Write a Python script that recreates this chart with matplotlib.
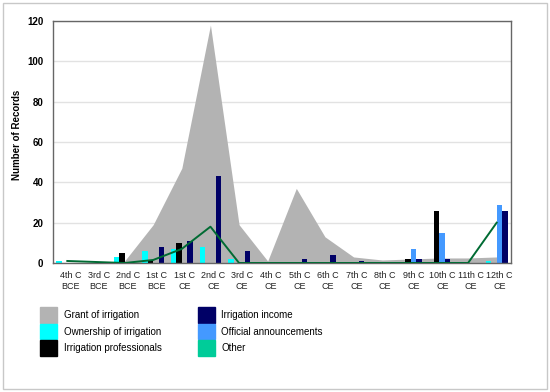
import matplotlib
matplotlib.use("Agg")
import matplotlib.pyplot as plt
import matplotlib.transforms as mtransforms
from matplotlib.patches import Patch, Rectangle
import numpy as np

plt.rcParams['font.family'] = ['Liberation Sans', 'DejaVu Sans']

categories = ["4th C\nBCE", "3rd C\nBCE", "2nd C\nBCE", "1st C\nBCE", "1st C\nCE", "2nd C\nCE",
              "3rd C\nCE", "4th C\nCE", "5th C\nCE", "6th C\nCE", "7th C\nCE", "8th C\nCE",
              "9th C\nCE", "10th C\nCE", "11th C\nCE", "12th C\nCE"]

grant = [0, 0, 1, 19, 47, 118, 19, 1, 37, 13, 3, 1.5, 2, 2.5, 2.5, 3]
ownership = [1, 0, 3, 6, 7, 8, 2, 0, 0, 0, 0, 0, 0, 0, 0.5, 1]
professionals = [0, 0, 5, 1, 10, 0, 0, 0, 0, 0, 0, 0, 2, 26, 0, 0]
announcements = [0, 0, 0, 0, 0, 0, 0, 0, 0, 0, 0, 0, 7, 15, 0, 29]
income = [0, 0, 0, 8, 11, 43, 6, 0, 2, 4, 1, 0, 2, 2, 0, 26]
other = [1, 0.5, 0, 1.5, 7, 18, 0, 0, 0, 0, 0, 0, 0, 0, 0, 20]

yticks = [0, 20, 40, 60, 80, 100, 120]

c_grant = '#B3B3B3'
c_own = '#00FFFF'
c_prof = '#000000'
c_inc = '#000066'
c_ann = '#4499FF'
c_other_line = '#006B33'
c_other_leg = '#00CC99'

fig = plt.figure(figsize=(5.5, 3.92), dpi=100)
ax = fig.add_axes([53/550, 1-263/392, (511-53)/550, (263-21)/392])

x = np.arange(len(categories))
ax.fill_between(x, 0, grant, color=c_grant, lw=0, zorder=1)

w = 0.19
ax.bar(x - 1.5*w, ownership, w, color=c_own, zorder=2)
ax.bar(x - 0.5*w, professionals, w, color=c_prof, zorder=2)
ax.bar(x + 0.5*w, announcements, w, color=c_ann, zorder=2)
ax.bar(x + 1.5*w, income, w, color=c_inc, zorder=2)
ax.plot(x, other, color=c_other_line, lw=1.4, zorder=3)

ax.set_xlim(-0.5, len(categories) - 0.5)
ax.set_ylim(0, 120)
ax.set_yticks(yticks)
ax.set_yticklabels([str(v) for v in yticks], fontsize=7, fontweight='bold')
ax.set_xticks(x)
ax.set_xticklabels(categories, fontsize=6.5, color='#222222', linespacing=1.3)
ax.tick_params(axis='both', length=0)
ax.tick_params(axis='y', pad=7)
ax.tick_params(axis='x', pad=6)
offset = mtransforms.ScaledTranslation(3/100, 0, fig.dpi_scale_trans)
for lab in ax.get_xticklabels():
    lab.set_transform(lab.get_transform() + offset)

ax.grid(axis='y', color='#E2E2E2', lw=1, zorder=0.5)
ax.set_axisbelow(True)
for s in ax.spines.values():
    s.set_color('#666666')
    s.set_linewidth(1)

ax.set_ylabel("Number of Records", fontsize=7, fontweight='bold')
ax.yaxis.set_label_coords(-0.068, 0.53)

handles = [Patch(color=c_grant), Patch(color=c_own), Patch(color=c_prof),
           Patch(color=c_inc), Patch(color=c_ann), Patch(color=c_other_leg)]
labels = ["Grant of irrigation", "Ownership of irrigation", "Irrigation professionals",
          "Irrigation income", "Official announcements", "Other"]
fig.legend(handles, labels, loc='upper left', bbox_to_anchor=(40/550, 1-307/392),
           ncol=2, frameon=False, fontsize=7, handlelength=1.75, handleheight=2.1,
           labelspacing=0.1, handletextpad=0.7, columnspacing=3.7, borderpad=0,
           borderaxespad=0)

fig.patches.append(Rectangle((3/550, 3/392), 544/550, 386/392, transform=fig.transFigure,
                             fill=False, ec='#C8C8C8', lw=1))

fig.savefig("out.png", dpi=100)
